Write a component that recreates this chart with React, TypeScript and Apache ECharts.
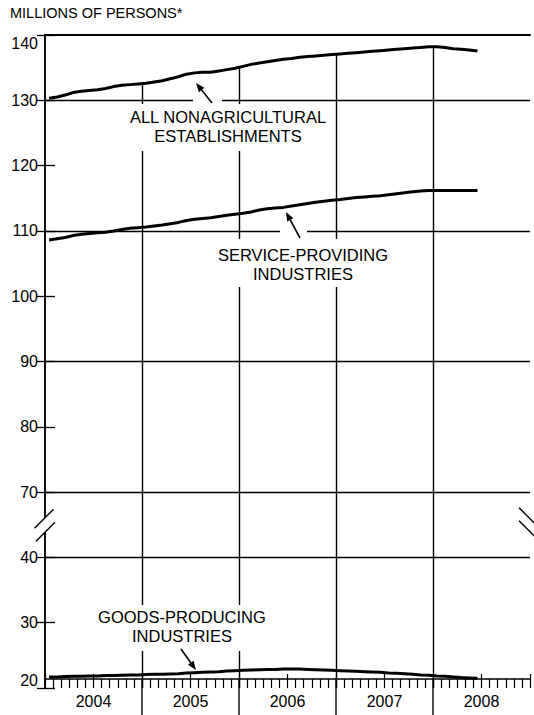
import React, { useEffect, useRef } from 'react';
import * as echarts from 'echarts';

// ---- Data (millions of persons, monthly Jan 2004 – Jun 2008) ----
const years = ['2004', '2005', '2006', '2007', '2008'];

const allNonag = [
  130.3, 130.5, 130.8, 131.2, 131.4, 131.5, 131.6, 131.8, 132.1, 132.3, 132.4, 132.5,
  132.6, 132.8, 133.0, 133.3, 133.6, 134.0, 134.2, 134.3, 134.3, 134.5, 134.7, 134.9,
  135.2, 135.5, 135.7, 135.9, 136.1, 136.3, 136.4, 136.6, 136.7, 136.8, 136.9, 137.0,
  137.1, 137.2, 137.3, 137.4, 137.5, 137.6, 137.7, 137.8, 137.9, 138.0, 138.1, 138.2,
  138.2, 138.1, 137.9, 137.8, 137.7, 137.55,
];

const serviceProviding = [
  108.6, 108.8, 109.0, 109.3, 109.5, 109.6, 109.7, 109.8, 110.0, 110.2, 110.4, 110.5,
  110.6, 110.75, 110.9, 111.1, 111.3, 111.6, 111.8, 111.9, 112.0, 112.2, 112.4, 112.55,
  112.7, 112.9, 113.2, 113.4, 113.5, 113.6, 113.8, 114.0, 114.2, 114.4, 114.55, 114.7,
  114.8, 114.95, 115.1, 115.2, 115.3, 115.4, 115.55, 115.7, 115.85, 116.0, 116.1, 116.2,
  116.2, 116.2, 116.2, 116.2, 116.2, 116.2,
];

const goodsProducing = [
  21.7, 21.7, 21.75, 21.8, 21.8, 21.85, 21.85, 21.9, 21.9, 21.95, 22.0, 22.0,
  22.05, 22.1, 22.1, 22.15, 22.2, 22.3, 22.35, 22.4, 22.45, 22.5, 22.6, 22.65,
  22.7, 22.75, 22.8, 22.85, 22.85, 22.9, 22.9, 22.9, 22.85, 22.8, 22.75, 22.7,
  22.65, 22.6, 22.55, 22.5, 22.45, 22.4, 22.3, 22.25, 22.2, 22.1, 22.0, 21.95,
  21.85, 21.8, 21.7, 21.6, 21.55, 21.5,
];

const gridLevels = [130, 110, 90, 70, 40];
const yearBoundaries = [12, 24, 36, 48];

// broken axis: values >= 70 shifted by 40, values <= 40 shifted by 20
const toAxis = (v: number) => (v >= 70 ? v - 40 : v - 20);
const fromAxis = (a: number) => (a >= 30 ? a + 40 : a + 20);
const BREAK_AT = 25;

const FONT = '"Liberation Sans", Arial, sans-serif';

const toPoints = (arr: number[]) => arr.map((v, i) => [i + 0.5, toAxis(v)]);

const lineSeries = (name: string, arr: number[], extra: any = {}) => ({
  name,
  type: 'line',
  data: toPoints(arr),
  showSymbol: false,
  symbol: 'none',
  lineStyle: { color: '#000', width: 3 },
  z: 5,
  silent: true,
  ...extra,
});

function arrow(tail: [number, number], tip: [number, number]) {
  const dx = tip[0] - tail[0];
  const dy = tip[1] - tail[1];
  const len = Math.hypot(dx, dy);
  const ux = dx / len;
  const uy = dy / len;
  const hl = 9;
  const hw = 3.5;
  const bx = tip[0] - ux * hl;
  const by = tip[1] - uy * hl;
  return [
    {
      type: 'line',
      z: 60,
      shape: { x1: tail[0], y1: tail[1], x2: bx, y2: by },
      style: { stroke: '#000', lineWidth: 1.6 },
    },
    {
      type: 'polygon',
      z: 60,
      shape: {
        points: [
          [tip[0], tip[1]],
          [bx - uy * hw, by + ux * hw],
          [bx + uy * hw, by - ux * hw],
        ],
      },
      style: { fill: '#000' },
    },
  ];
}

export default function App() {
  const ref = useRef<HTMLDivElement>(null);

  useEffect(() => {
    if (!ref.current) return;
    const chart = echarts.init(ref.current, undefined, { renderer: 'svg' });

    const verticalMarks = yearBoundaries.map((m) => [
      { coord: [m, toAxis((allNonag[m - 1] + allNonag[m]) / 2)] },
      { coord: [m, 0] },
    ]);

    const option: any = {
      animation: false,
      backgroundColor: '#fff',
      textStyle: { fontFamily: FONT, color: '#000' },
      grid: { left: 45, right: 4, top: 35, bottom: 27, containLabel: false },
      xAxis: [
        {
          type: 'value',
          min: 0,
          max: 60,
          interval: 6,
          position: 'bottom',
          offset: -9,
          axisLine: { show: true, lineStyle: { color: '#000', width: 1.5 } },
          axisTick: { show: true, inside: false, length: 9, lineStyle: { color: '#000', width: 1.2 } },
          minorTick: { show: true, splitNumber: 6, length: 9, lineStyle: { color: '#000', width: 1.2 } },
          axisLabel: {
            show: true,
            margin: 14,
            fontSize: 16,
            fontFamily: FONT,
            color: '#000',
            hideOverlap: false,
            formatter: (v: number) => (v % 12 === 6 ? years[(v - 6) / 12] : ''),
          },
          splitLine: { show: false },
          minorSplitLine: { show: false },
        },
        {
          type: 'value',
          min: 0,
          max: 60,
          interval: 6,
          position: 'bottom',
          offset: -9,
          axisLine: { show: false },
          axisTick: { show: true, inside: true, length: 5, lineStyle: { color: '#000', width: 1.2 } },
          axisLabel: { show: false },
          splitLine: { show: false },
        },
        {
          type: 'value',
          min: 0,
          max: 60,
          position: 'top',
          axisLine: { show: true, lineStyle: { color: '#000', width: 2 } },
          axisTick: { show: false },
          axisLabel: { show: false },
          splitLine: { show: false },
        },
      ],
      yAxis: [
        {
          type: 'value',
          min: 0,
          max: 100,
          interval: 10,
          position: 'left',
          axisLine: { show: true, lineStyle: { color: '#000', width: 1.5 } },
          axisTick: { show: true, inside: true, length: 10, lineStyle: { color: '#000', width: 1.3 } },
          axisLabel: {
            show: true,
            margin: 7,
            fontSize: 16,
            fontFamily: FONT,
            color: '#000',
            verticalAlignMaxLabel: 'top',
            verticalAlignMinLabel: 'bottom',
            formatter: (v: number) => (v === BREAK_AT ? '' : String(fromAxis(v))),
          },
          splitLine: { show: false },
        },
        {
          type: 'value',
          min: 0,
          max: 100,
          interval: 10,
          position: 'right',
          axisLine: { show: true, lineStyle: { color: '#000', width: 1.5 } },
          axisTick: { show: true, inside: true, length: 8, lineStyle: { color: '#000', width: 1.3 } },
          axisLabel: { show: false },
          splitLine: { show: false },
        },
      ],
      series: [
        lineSeries('All nonagricultural establishments', allNonag, {
          markLine: {
            silent: true,
            symbol: 'none',
            label: { show: false },
            lineStyle: { color: '#000', width: 1.4, type: 'solid' },
            data: [
              ...gridLevels.map((v) => ({ yAxis: toAxis(v) })),
              ...verticalMarks,
            ],
          },
        }),
        lineSeries('Service-providing industries', serviceProviding),
        lineSeries('Goods-producing industries', goodsProducing),
      ],
    };

    chart.setOption(option);

    const xPx = (v: number) => chart.convertToPixel({ xAxisIndex: 0 }, v) as number;
    const yPx = (v: number) => chart.convertToPixel({ yAxisIndex: 0 }, v) as number;

    const xL = xPx(0);
    const xR = xPx(60);
    const yb = yPx(BREAK_AT);
    const yBase = yPx(0);

    const labelStyle = (text: string, x: number, y: number, padding: number[]) => ({
      type: 'text',
      z: 50,
      style: {
        text,
        x,
        y,
        align: 'center',
        verticalAlign: 'top',
        font: `16.5px ${FONT}`,
        lineHeight: 19.5,
        fill: '#000',
        backgroundColor: '#fff',
        padding,
      },
    });

    const graphic: any[] = [
      {
        type: 'text',
        z: 50,
        style: {
          text: 'MILLIONS OF PERSONS*',
          x: 10,
          y: 13,
          verticalAlign: 'middle',
          font: `14.5px ${FONT}`,
          fill: '#000',
        },
      },
      // year separators extending below the axis
      ...yearBoundaries.map((m) => ({
        type: 'line',
        z: 10,
        shape: { x1: xPx(m), y1: yBase - 10, x2: xPx(m), y2: 715 },
        style: { stroke: '#000', lineWidth: 1.4 },
      })),
      // knockouts where arrows cross grid lines
      { type: 'rect', z: 40, shape: { x: 193, y: yPx(toAxis(130)) - 3, width: 29, height: 6 }, style: { fill: '#fff' } },
      { type: 'rect', z: 40, shape: { x: 280, y: yPx(toAxis(110)) - 3, width: 27, height: 6 }, style: { fill: '#fff' } },
      labelStyle('ALL NONAGRICULTURAL\nESTABLISHMENTS', 228, 104, [3, 3, 5, 3]),
      labelStyle('SERVICE-PROVIDING\nINDUSTRIES', 303, 239, [6, 3, 3, 3]),
      labelStyle('GOODS-PRODUCING\nINDUSTRIES', 182, 605, [2, 3, 5, 3]),
      ...arrow([212, 103], [196, 83]),
      ...arrow([300, 238], [286, 212]),
      ...arrow([181, 649], [196, 670]),
      // axis break marks (left)
      {
        type: 'polygon',
        z: 70,
        shape: { points: [[34.5 + xL - 45, yb + 3.5], [53.5 + xL - 45, yb - 15.5], [55 + xL - 45, yb - 2.5], [36 + xL - 45, yb + 16.5]] },
        style: { fill: '#fff' },
      },
      { type: 'line', z: 71, shape: { x1: xL - 10.5, y1: yb + 3.5, x2: xL + 8.5, y2: yb - 15.5 }, style: { stroke: '#000', lineWidth: 1.5 } },
      { type: 'line', z: 71, shape: { x1: xL - 9, y1: yb + 16.5, x2: xL + 10, y2: yb - 2.5 }, style: { stroke: '#000', lineWidth: 1.5 } },
      // axis break marks (right)
      {
        type: 'polygon',
        z: 70,
        shape: { points: [[xR - 11, yb - 17], [xR + 7, yb + 1], [xR + 7, yb + 14], [xR - 11, yb - 4]] },
        style: { fill: '#fff' },
      },
      { type: 'line', z: 71, shape: { x1: xR - 11, y1: yb - 17, x2: xR + 7, y2: yb + 1 }, style: { stroke: '#000', lineWidth: 1.5 } },
      { type: 'line', z: 71, shape: { x1: xR - 11, y1: yb - 4, x2: xR + 7, y2: yb + 14 }, style: { stroke: '#000', lineWidth: 1.5 } },
    ];

    chart.setOption({ graphic });

    return () => {
      chart.dispose();
    };
  }, []);

  return (
    <div
      ref={ref}
      style={{ position: 'fixed', left: 0, top: 0, width: 534, height: 715, background: '#fff' }}
    />
  );
}
